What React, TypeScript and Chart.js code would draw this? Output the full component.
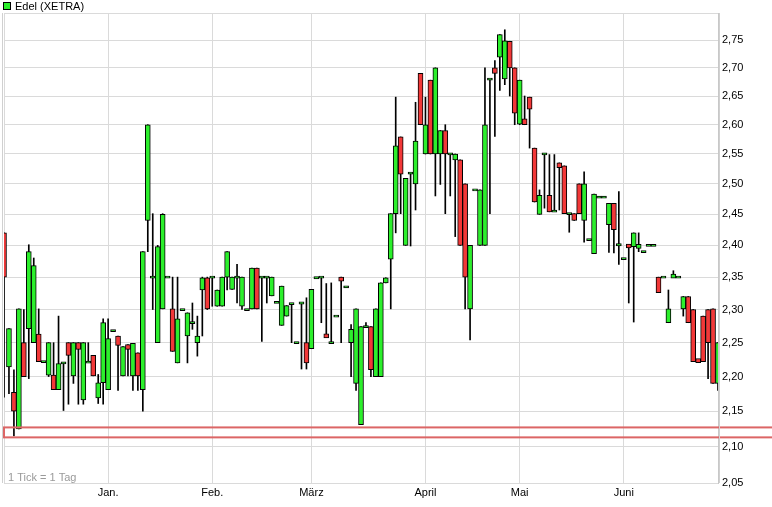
import React, { useEffect, useRef } from "react";
import { Chart, registerables } from "chart.js";

Chart.register(...registerables);

// daily candles, Dec .. June (one entry per trading day)
const opens = [
  2.42, 2.214, 2.177, 2.125, 2.25, 2.271, 2.25, 2.263, 2.222, 2.202,
  2.202, 2.181, 2.22, 2.25, 2.201, 2.25, 2.166, 2.221, 2.231, 2.169,
  2.191, 2.181, 2.268, 2.26, 2.201, 2.247, 2.201, 2.235, 2.181, 2.44,
  2.35, 2.25, 2.301, 2.35, 2.301, 2.22, 2.3, 2.26, 2.28, 2.25,
  2.33, 2.349, 2.35, 2.305, 2.305, 2.35, 2.331, 2.35, 2.305, 2.3,
  2.301, 2.364, 2.35, 2.35, 2.321, 2.311, 2.276, 2.29, 2.309, 2.25,
  2.31, 2.25, 2.241, 2.349, 2.35, 2.262, 2.25, 2.29, 2.349, 2.335,
  2.25, 2.19, 2.131, 2.274, 2.274, 2.2, 2.2, 2.341, 2.378, 2.451,
  2.579, 2.4, 2.518, 2.5, 2.69, 2.55, 2.678, 2.55, 2.55, 2.59,
  2.55, 2.54, 2.54, 2.5, 2.301, 2.49, 2.4, 2.4, 2.68, 2.7,
  2.719, 2.68, 2.748, 2.7, 2.601, 2.61, 2.648, 2.56, 2.45, 2.55,
  2.481, 2.455, 2.535, 2.53, 2.451, 2.451, 2.5, 2.44, 2.409, 2.387,
  2.478, 2.478, 2.433, 2.468, 2.401, 2.379, 2.4, 2.398, 2.397, 2.39,
  2.4, 2.4, 2.35, 2.35, 2.28, 2.35, 2.35, 2.301, 2.32, 2.3,
  2.225, 2.29, 2.3, 2.301, 2.19,
];
const highs = [
  2.42, 2.271, 2.21, 2.301, 2.3, 2.401, 2.38, 2.301, 2.222, 2.25,
  2.25, 2.29, 2.22, 2.25, 2.25, 2.25, 2.25, 2.25, 2.231, 2.203,
  2.286, 2.286, 2.268, 2.26, 2.244, 2.247, 2.249, 2.235, 2.39, 2.6,
  2.451, 2.4, 2.451, 2.35, 2.35, 2.35, 2.3, 2.295, 2.31, 2.29,
  2.35, 2.35, 2.35, 2.33, 2.35, 2.39, 2.35, 2.37, 2.35, 2.3,
  2.364, 2.364, 2.35, 2.35, 2.35, 2.311, 2.336, 2.306, 2.309, 2.25,
  2.31, 2.318, 2.331, 2.349, 2.35, 2.34, 2.341, 2.29, 2.35, 2.335,
  2.277, 2.301, 2.274, 2.28, 2.274, 2.301, 2.341, 2.349, 2.451, 2.648,
  2.579, 2.509, 2.518, 2.639, 2.69, 2.648, 2.678, 2.7, 2.59, 2.6,
  2.55, 2.55, 2.54, 2.5, 2.4, 2.49, 2.49, 2.7, 2.68, 2.713,
  2.76, 2.769, 2.748, 2.7, 2.678, 2.65, 2.648, 2.56, 2.49, 2.55,
  2.549, 2.549, 2.535, 2.53, 2.451, 2.451, 2.5, 2.52, 2.409, 2.483,
  2.478, 2.478, 2.468, 2.468, 2.487, 2.379, 2.4, 2.42, 2.42, 2.39,
  2.4, 2.4, 2.35, 2.35, 2.33, 2.36, 2.35, 2.32, 2.32, 2.3,
  2.225, 2.29, 2.3, 2.301, 2.25,
];
const lows = [
  2.17, 2.175, 2.115, 2.125, 2.2, 2.197, 2.25, 2.222, 2.222, 2.2,
  2.181, 2.181, 2.151, 2.16, 2.19, 2.16, 2.16, 2.221, 2.201, 2.161,
  2.16, 2.181, 2.268, 2.18, 2.201, 2.201, 2.18, 2.18, 2.15, 2.39,
  2.3, 2.25, 2.301, 2.35, 2.237, 2.22, 2.3, 2.22, 2.27, 2.23,
  2.26, 2.3, 2.305, 2.305, 2.305, 2.33, 2.331, 2.31, 2.3, 2.3,
  2.301, 2.301, 2.252, 2.31, 2.321, 2.311, 2.276, 2.29, 2.25, 2.25,
  2.211, 2.211, 2.241, 2.349, 2.28, 2.26, 2.25, 2.29, 2.25, 2.335,
  2.2, 2.18, 2.131, 2.274, 2.2, 2.2, 2.2, 2.341, 2.301, 2.42,
  2.451, 2.4, 2.399, 2.457, 2.6, 2.55, 2.55, 2.48, 2.499, 2.451,
  2.48, 2.414, 2.4, 2.301, 2.254, 2.49, 2.4, 2.4, 2.451, 2.58,
  2.66, 2.67, 2.65, 2.6, 2.6, 2.6, 2.56, 2.47, 2.45, 2.46,
  2.454, 2.455, 2.457, 2.451, 2.421, 2.44, 2.451, 2.405, 2.409, 2.387,
  2.478, 2.478, 2.389, 2.388, 2.37, 2.379, 2.31, 2.281, 2.39, 2.39,
  2.4, 2.4, 2.326, 2.35, 2.28, 2.35, 2.35, 2.29, 2.28, 2.222,
  2.222, 2.222, 2.197, 2.19, 2.18,
];
const closes = [
  2.35, 2.271, 2.15, 2.301, 2.2, 2.39, 2.368, 2.222, 2.222, 2.25,
  2.181, 2.219, 2.22, 2.231, 2.25, 2.24, 2.25, 2.221, 2.201, 2.191,
  2.28, 2.256, 2.268, 2.246, 2.244, 2.24, 2.249, 2.201, 2.39, 2.6,
  2.35, 2.398, 2.45, 2.35, 2.237, 2.286, 2.3, 2.295, 2.28, 2.26,
  2.349, 2.301, 2.35, 2.33, 2.35, 2.39, 2.35, 2.35, 2.35, 2.3,
  2.364, 2.301, 2.35, 2.35, 2.35, 2.311, 2.336, 2.306, 2.309, 2.25,
  2.31, 2.22, 2.331, 2.349, 2.35, 2.258, 2.25, 2.29, 2.345, 2.335,
  2.27, 2.301, 2.274, 2.274, 2.21, 2.301, 2.341, 2.349, 2.451, 2.564,
  2.516, 2.509, 2.518, 2.572, 2.6, 2.6, 2.55, 2.7, 2.59, 2.55,
  2.55, 2.55, 2.4, 2.35, 2.4, 2.49, 2.49, 2.6, 2.68, 2.69,
  2.76, 2.749, 2.7, 2.62, 2.678, 2.6, 2.627, 2.47, 2.481, 2.55,
  2.454, 2.455, 2.527, 2.451, 2.451, 2.44, 2.451, 2.5, 2.409, 2.483,
  2.478, 2.478, 2.468, 2.425, 2.401, 2.379, 2.398, 2.42, 2.4, 2.39,
  2.4, 2.4, 2.326, 2.35, 2.301, 2.353, 2.35, 2.32, 2.28, 2.222,
  2.222, 2.222, 2.25, 2.19, 2.25,
];

const monthStarts = [0, 21, 42, 62, 85, 104, 125];
const monthLabels = ["", "Jan.", "Feb.", "März", "April", "Mai", "Juni"];
const priceTicks = [
  2.05, 2.1, 2.15, 2.2, 2.25, 2.3, 2.35, 2.4, 2.45, 2.5, 2.55, 2.6, 2.65,
  2.7, 2.75, 2.8,
];
const supportBand = [2.113, 2.127];

const UP = "#2cef2c";
const DOWN = "#f23838";
const GRID = "#dadada";
const FONT = "'Liberation Sans', Arial, sans-serif";

// bodies: a flat candle still needs a visible dash
const bodyData = opens.map((o, i) => {
  let lo = Math.min(o, closes[i]);
  let hi = Math.max(o, closes[i]);
  const minRatio = o === closes[i] ? 1.0014 : 1.0027;
  if (hi / lo < minRatio) {
    const m = Math.sqrt(hi * lo);
    const k = Math.sqrt(minRatio);
    lo = m / k;
    hi = m * k;
  }
  return { x: i, y: [lo, hi] };
});
const wickData = lows.map((l, i) => ({ x: i, y: [l, highs[i]] }));
const bodyColors = opens.map((o, i) => (closes[i] >= o ? UP : DOWN));

const overlay = {
  id: "overlay",
  afterDatasetsDraw(chart: any) {
    const { ctx, chartArea, scales } = chart;
    const top = scales.y.getPixelForValue(supportBand[1]);
    const bottom = scales.y.getPixelForValue(supportBand[0]);
    ctx.save();
    ctx.strokeStyle = "#dc6666";
    ctx.lineWidth = 2;
    ctx.strokeRect(chartArea.left, top, chart.width, bottom - top);

    ctx.fillStyle = "#9a9a9a";
    ctx.font = "11px " + FONT;
    ctx.textBaseline = "alphabetic";
    ctx.fillText("1 Tick = 1 Tag", chartArea.left + 4, chartArea.bottom - 2);

    // legend
    ctx.fillStyle = UP;
    ctx.fillRect(3.5, 2.5, 7, 7);
    ctx.strokeStyle = "#000";
    ctx.lineWidth = 1;
    ctx.strokeRect(3.5, 2.5, 7, 7);
    ctx.fillStyle = "#000";
    ctx.fillText("Edel (XETRA)", 15, 10);

    // double frame line at the left and right edges
    ctx.strokeStyle = "#d0d0d0";
    ctx.beginPath();
    ctx.moveTo(chartArea.left - 1.5, chartArea.top);
    ctx.lineTo(chartArea.left - 1.5, chartArea.bottom);
    ctx.moveTo(chartArea.right + 1.5, chartArea.top);
    ctx.lineTo(chartArea.right + 1.5, chartArea.bottom);
    ctx.stroke();
    ctx.restore();
  },
};

const CandleChart = () => {
  const chartRef = useRef<HTMLCanvasElement>(null);
  const chartInstanceRef = useRef<Chart | null>(null);

  useEffect(() => {
    if (!chartRef.current) return;
    Chart.defaults.font.family = FONT;
    Chart.defaults.font.size = 11;
    Chart.defaults.color = "#000";

    chartInstanceRef.current = new Chart(chartRef.current, {
      type: "bar",
      data: {
        datasets: [
          {
            label: "body",
            data: bodyData as any,
            backgroundColor: bodyColors,
            borderColor: "#000",
            borderWidth: 1,
            borderSkipped: false,
            barThickness: 5,
            grouped: false,
            order: 1,
          },
          {
            label: "wick",
            data: wickData as any,
            backgroundColor: "#000",
            borderWidth: 0,
            barThickness: 1,
            grouped: false,
            order: 2,
          },
        ],
      },
      options: {
        animation: false,
        responsive: true,
        maintainAspectRatio: false,
        layout: { padding: { left: 4, top: 13, right: 0, bottom: 0 } },
        plugins: {
          legend: { display: false },
          tooltip: { enabled: false },
        },
        scales: {
          x: {
            type: "linear",
            min: 0,
            max: opens.length - 1,
            offset: false,
            afterBuildTicks: (scale: any) => {
              scale.ticks = monthStarts.map((v) => ({ value: v }));
            },
            afterFit: (scale: any) => {
              scale.height = 24;
            },
            ticks: {
              autoSkip: false,
              maxRotation: 0,
              padding: 3,
              callback: (value: any) => {
                const k = monthStarts.indexOf(Number(value));
                return k >= 0 ? monthLabels[k] : "";
              },
            },
            grid: { color: GRID, drawTicks: false, offset: false },
            border: { color: GRID },
          },
          y: {
            type: "logarithmic",
            position: "right",
            min: priceTicks[0],
            max: priceTicks[priceTicks.length - 1],
            afterBuildTicks: (scale: any) => {
              scale.ticks = priceTicks.map((v) => ({ value: v }));
            },
            afterFit: (scale: any) => {
              scale.width = 54;
            },
            ticks: {
              padding: 4,
              callback: (value: any) => {
                const v = Number(value);
                if (v > 2.78) return "";
                return v.toFixed(2).replace(".", ",");
              },
            },
            grid: { color: GRID, drawTicks: false },
            border: { color: "#c8c8c8" },
          },
        },
      },
      plugins: [overlay],
    });

    return () => {
      if (chartInstanceRef.current) {
        chartInstanceRef.current.destroy();
        chartInstanceRef.current = null;
      }
    };
  }, []);

  return (
    <div
      style={{
        position: "absolute",
        left: 0,
        top: 0,
        width: 772,
        height: 507,
        background: "#fff",
      }}
    >
      <canvas ref={chartRef}></canvas>
    </div>
  );
};

export default function App() {
  return <CandleChart />;
}
